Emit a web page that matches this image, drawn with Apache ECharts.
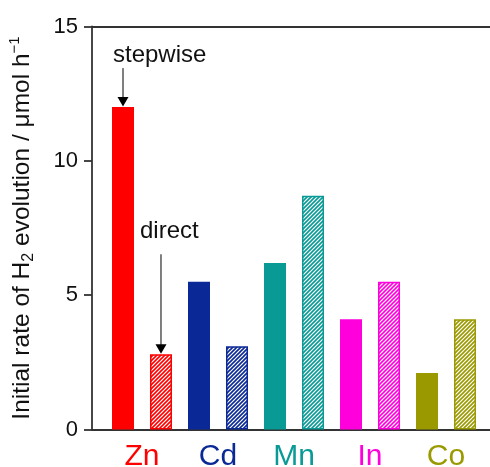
<!DOCTYPE html>
<html>
<head>
<meta charset="utf-8">
<script src="https://cdn.jsdelivr.net/npm/echarts@6/dist/echarts.min.js"></script>
<style>
  html, body { margin: 0; padding: 0; background: #fff; }
  #chart { width: 490px; height: 467px; }
</style>
</head>
<body>
<div id="chart"></div>
<script>
// Metals and their H2 evolution rates (µmol h^-1)
const metals = ['Zn', 'Cd', 'Mn', 'In', 'Co'];
const metalColors = ['#ff0000', '#0a2896', '#0a9a96', '#ff00dd', '#9a9a00'];
const stepwiseRates = [12.0, 5.5, 6.2, 4.1, 2.1];
const directRates = [2.8, 3.1, 8.7, 5.5, 4.1];
const yTicks = [0, 5, 10, 15];

const FONT = '"Liberation Sans", Arial, Helvetica, sans-serif';
const AXIS_COLOR = '#333';

// Diagonal "////" hatch fill for the direct-route bars
function hatch(color) {
  const size = 4;
  const c = document.createElement('canvas');
  c.width = size; c.height = size;
  const g = c.getContext('2d');
  g.fillStyle = '#fff';
  g.fillRect(0, 0, size, size);
  g.strokeStyle = color;
  g.lineWidth = 1.6;
  g.beginPath();
  g.moveTo(-1, size + 1); g.lineTo(size + 1, -1);
  g.moveTo(-1, 1); g.lineTo(1, -1);
  g.moveTo(size - 1, size + 1); g.lineTo(size + 1, size - 1);
  g.stroke();
  return { image: c, repeat: 'repeat' };
}

const chart = echarts.init(document.getElementById('chart'), null, { renderer: 'canvas' });

const yMin = yTicks[0];
const yMax = yTicks[yTicks.length - 1];
const yStep = yTicks[1] - yTicks[0];

const frameGrid = { left: 92, right: 0, top: 26.5, bottom: 37.5, containLabel: false, outerBoundsMode: 'none' };
const barGrid = { left: 104, right: 6, top: 26.5, bottom: 37.5, containLabel: false, outerBoundsMode: 'none' };

chart.setOption({
  animation: false,
  backgroundColor: '#fff',
  textStyle: { fontFamily: FONT },
  grid: [frameGrid, barGrid],
  xAxis: [
    {
      // bottom frame line
      type: 'value', gridIndex: 0, min: 0, max: 1, position: 'bottom',
      axisLine: { show: true, lineStyle: { color: AXIS_COLOR, width: 1.8 } },
      axisTick: { show: false }, axisLabel: { show: false }, splitLine: { show: false }
    },
    {
      // top frame line
      type: 'value', gridIndex: 0, min: 0, max: 1, position: 'top',
      axisLine: { show: true, lineStyle: { color: AXIS_COLOR, width: 1.8 } },
      axisTick: { show: false }, axisLabel: { show: false }, splitLine: { show: false }
    },
    {
      type: 'category', gridIndex: 1, data: metals,
      axisLine: { show: false }, axisTick: { show: false },
      axisLabel: {
        fontSize: 30, fontFamily: FONT, margin: 12,
        color: (v, i) => metalColors[i]
      }
    }
  ],
  yAxis: [
    {
      type: 'value', gridIndex: 0, min: yMin, max: yMax, interval: yStep,
      axisLine: { show: true, lineStyle: { color: AXIS_COLOR, width: 1.8 } },
      axisTick: { show: true, inside: false, length: 8, lineStyle: { color: AXIS_COLOR, width: 1.8 } },
      axisLabel: { fontSize: 22, color: '#111', margin: 14, fontFamily: FONT },
      splitLine: { show: false },
      name: '{t|Initial rate of H}{sub|2}{t| evolution / μmol h}{sup|−1}',
      nameLocation: 'middle',
      nameGap: 55,
      nameRotate: 90,
      nameTextStyle: {
        color: '#111', fontFamily: FONT,
        rich: {
          t: { fontSize: 24.5, lineHeight: 30, color: '#111', fontFamily: FONT },
          sub: { fontSize: 16, lineHeight: 16, verticalAlign: 'bottom', color: '#111', fontFamily: FONT },
          sup: { fontSize: 15, lineHeight: 15, verticalAlign: 'top', color: '#111', fontFamily: FONT }
        }
      }
    },
    {
      type: 'value', gridIndex: 1, min: yMin, max: yMax, interval: yStep, show: false
    }
  ],
  series: [
    {
      name: 'stepwise', type: 'bar', xAxisIndex: 2, yAxisIndex: 1,
      barWidth: 22, barGap: '72.7%',
      data: stepwiseRates.map((v, i) => ({ value: v, itemStyle: { color: metalColors[i] } }))
    },
    {
      name: 'direct', type: 'bar', xAxisIndex: 2, yAxisIndex: 1,
      barWidth: 22, barGap: '72.7%',
      data: directRates.map((v, i) => ({
        value: v,
        itemStyle: { color: hatch(metalColors[i]), borderColor: metalColors[i], borderWidth: 1.5 }
      }))
    }
  ]
});

// Annotation arrows pointing at the Zn bars, placed from the laid-out bars
function barTop(seriesIndex, dataIndex) {
  const lay = chart.getModel().getSeriesByIndex(seriesIndex).getData().getItemLayout(dataIndex);
  return { cx: lay.x + lay.width / 2, top: Math.min(lay.y, lay.y + lay.height) };
}

function arrow(cx, tip, tailLen) {
  return [
    { type: 'line', shape: { x1: cx, y1: tip - tailLen, x2: cx, y2: tip - 8 },
      style: { stroke: '#000', lineWidth: 1 } },
    { type: 'polygon', shape: { points: [[cx - 5.5, tip - 10], [cx + 5.5, tip - 10], [cx, tip - 0.5]] },
      style: { fill: '#000' } }
  ];
}

const s = barTop(0, 0);
const d = barTop(1, 0);

chart.setOption({
  graphic: [
    ...arrow(s.cx, s.top, 39),
    { type: 'text', left: s.cx - 10, top: s.top - 64,
      style: { text: 'stepwise', font: '24px ' + FONT, fill: '#111' } },
    ...arrow(d.cx, d.top, 100),
    { type: 'text', left: d.cx - 21, top: d.top - 135,
      style: { text: 'direct', font: '24px ' + FONT, fill: '#111' } }
  ]
});
</script>
</body>
</html>
